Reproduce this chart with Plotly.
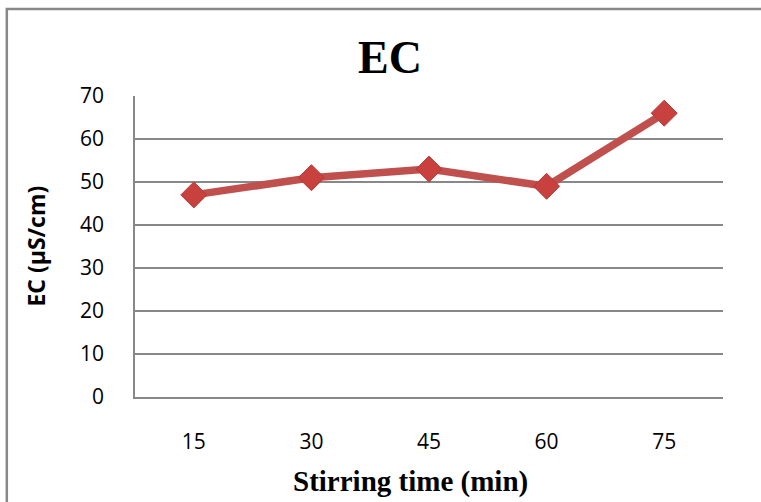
import plotly.graph_objects as go

stirring_time = ["15", "30", "45", "60", "75"]
ec_values = [47, 51, 53, 49, 66]
y_ticks = [0, 10, 20, 30, 40, 50, 60, 70]

RED = "#C0504D"
GRID = "#888888"

fig = go.Figure()
fig.add_trace(go.Scatter(
    x=stirring_time, y=ec_values, mode="lines+markers",
    line=dict(color=RED, width=7.5),
    marker=dict(symbol="diamond", size=20, color="#C9413F",
                line=dict(color="#B63A37", width=1)),
    showlegend=False, hoverinfo="x+y",
))

fig.update_layout(
    width=761, height=502,
    margin=dict(l=135, r=38, t=96, b=105),
    paper_bgcolor="white", plot_bgcolor="white",
    font=dict(family="Open Sans", color="black"),
    xaxis=dict(type="category", range=[-0.5, 4.5], showgrid=False,
               showline=True, linecolor=GRID, linewidth=1.6,
               ticks="", tickfont=dict(size=21, family="Open Sans", color="black"),
               ticklabelstandoff=25, zeroline=False),
    yaxis=dict(range=[0, 70], tickvals=y_ticks, showgrid=True,
               gridcolor=GRID, gridwidth=1.6, showline=True,
               linecolor=GRID, linewidth=1.6, ticks="",
               tickfont=dict(size=21, family="Open Sans", color="black"),
               ticklabelstandoff=25, zeroline=False),
    shapes=[dict(type="rect", xref="paper", yref="paper",
                 x0=-0.218, x1=1.08, y0=-0.4, y1=1.289,
                 line=dict(color=GRID, width=2.5), fillcolor="rgba(0,0,0,0)",
                 layer="below")],
    annotations=[
        dict(text="<b>EC</b>", xref="paper", yref="paper", x=0.434, y=1.128,
             xanchor="center", yanchor="middle", showarrow=False,
             font=dict(family="Liberation Serif", size=46, color="black")),
        dict(text="<b>Stirring time (min)</b>", xref="paper", yref="paper",
             x=0.468, y=-0.282, xanchor="center", yanchor="middle", showarrow=False,
             font=dict(family="Liberation Serif", size=29, color="black")),
        dict(text="<b>EC (µS/cm)</b>", xref="paper", yref="paper",
             x=-0.17, y=0.5, xanchor="center", yanchor="middle", showarrow=False,
             textangle=-90,
             font=dict(family="Open Sans", size=23, color="black")),
    ],
)

fig.write_html("out.html")
